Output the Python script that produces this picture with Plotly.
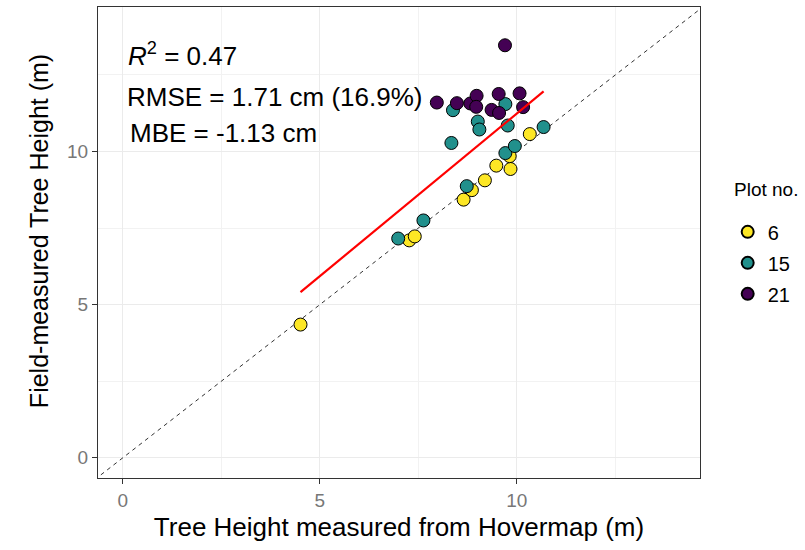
import plotly.graph_objects as go

# Tree heights: Hovermap-derived (x) vs field-measured (y), by plot
plot6_x = [4.51, 7.27, 7.41, 8.65, 8.86, 9.19, 9.48, 9.84, 9.82, 10.33]
plot6_y = [4.35, 7.10, 7.23, 8.43, 8.74, 9.06, 9.54, 9.43, 9.85, 10.57]

plot15_x = [6.99, 7.63, 8.73, 8.34, 9.71, 9.95, 9.01, 9.05, 9.77, 10.68, 8.38, 9.71]
plot15_y = [7.16, 7.75, 8.87, 10.28, 9.95, 10.18, 10.98, 10.72, 10.85, 10.80, 11.35, 11.55]

plot21_x = [9.70, 7.97, 8.48, 8.82, 8.98, 8.97, 9.54, 10.07, 9.36, 9.55, 10.16]
plot21_y = [13.47, 11.60, 11.58, 11.57, 11.82, 11.46, 11.88, 11.90, 11.36, 11.26, 11.45]

plot_labels = ["6", "15", "21"]
plot_colors = ["#FDE725", "#21908C", "#440154"]

# Fitted regression line (field = intercept + slope * hovermap)
fit_intercept = 0.62
fit_slope = 1.062

stats_r2 = "0.47"
stats_rmse = "1.71 cm (16.9%)"
stats_mbe = "-1.13 cm"

x_range = [-0.63, 14.65]
y_range = [-0.66, 14.72]

FONT = "Liberation Sans, Arial, sans-serif"
series = [(plot6_x, plot6_y), (plot15_x, plot15_y), (plot21_x, plot21_y)]

fig = go.Figure()

# 1:1 reference line
fig.add_trace(go.Scatter(
    x=[-2, 16], y=[-2, 16], mode="lines",
    line=dict(color="#333333", width=1, dash="4px,4px"),
    showlegend=False, hoverinfo="skip",
))

for (xs, ys), lab, col in zip(series, plot_labels, plot_colors):
    fig.add_trace(go.Scatter(
        x=xs, y=ys, mode="markers", name=lab, legendgroup=lab,
        marker=dict(size=13, color=col, line=dict(color="black", width=1)),
    ))

all_x = plot6_x + plot15_x + plot21_x
fit_x = [min(all_x), max(all_x)]
fig.add_trace(go.Scatter(
    x=fit_x, y=[fit_intercept + fit_slope * v for v in fit_x], mode="lines",
    line=dict(color="#FF0000", width=2.2),
    showlegend=False, hoverinfo="skip",
))

annot_font = dict(family=FONT, size=26, color="black")
fig.add_annotation(x=0.047, y=0.9, xref="paper", yref="paper", xanchor="left", yanchor="middle",
                   text=f"<i>R</i><sup>2</sup> = {stats_r2}", showarrow=False, font=annot_font)
fig.add_annotation(x=0.045, y=0.809, xref="paper", yref="paper", xanchor="left", yanchor="middle",
                   text=f"RMSE = {stats_rmse}", showarrow=False, font=annot_font)
fig.add_annotation(x=0.05, y=0.733, xref="paper", yref="paper", xanchor="left", yanchor="middle",
                   text=f"MBE = {stats_mbe}", showarrow=False, font=annot_font)

# y-axis title
fig.add_annotation(x=-0.099, y=0.525, xref="paper", yref="paper", xanchor="center", yanchor="middle",
                   text="Field-measured Tree Height (m)", textangle=-90, showarrow=False,
                   font=dict(family=FONT, size=25, color="black"))

# legend title
fig.add_annotation(x=1.053, y=0.6115, xref="paper", yref="paper", xanchor="left", yanchor="middle",
                   text="Plot no.", showarrow=False,
                   font=dict(family=FONT, size=19, color="black"))

axis_common = dict(
    showline=True, linecolor="#333333", linewidth=1, mirror=True,
    showgrid=True, gridcolor="#EBEBEB", gridwidth=1,
    zeroline=False, ticks="outside", ticklen=5, tickcolor="#333333", tickwidth=1,
    tickfont=dict(family=FONT, size=19, color="#777777"),
    tickvals=[0, 5, 10],
    minor=dict(tickvals=[2.5, 7.5, 12.5], showgrid=True, gridcolor="#F2F2F2", gridwidth=1, ticks=""),
)

fig.update_xaxes(range=x_range, **axis_common,
                 title=dict(text="Tree Height measured from Hovermap (m)", standoff=8,
                            font=dict(family=FONT, size=26, color="black")))
fig.update_yaxes(range=y_range, **axis_common)

fig.update_layout(
    width=805, height=550,
    margin=dict(l=98, r=105, t=7, b=72),
    paper_bgcolor="white", plot_bgcolor="white",
    legend=dict(
        font=dict(family=FONT, size=20, color="black"),
        x=1.046, y=0.564, xanchor="left", yanchor="top",
        tracegroupgap=2, itemsizing="constant",
    ),
)

fig.write_html("out.html")
